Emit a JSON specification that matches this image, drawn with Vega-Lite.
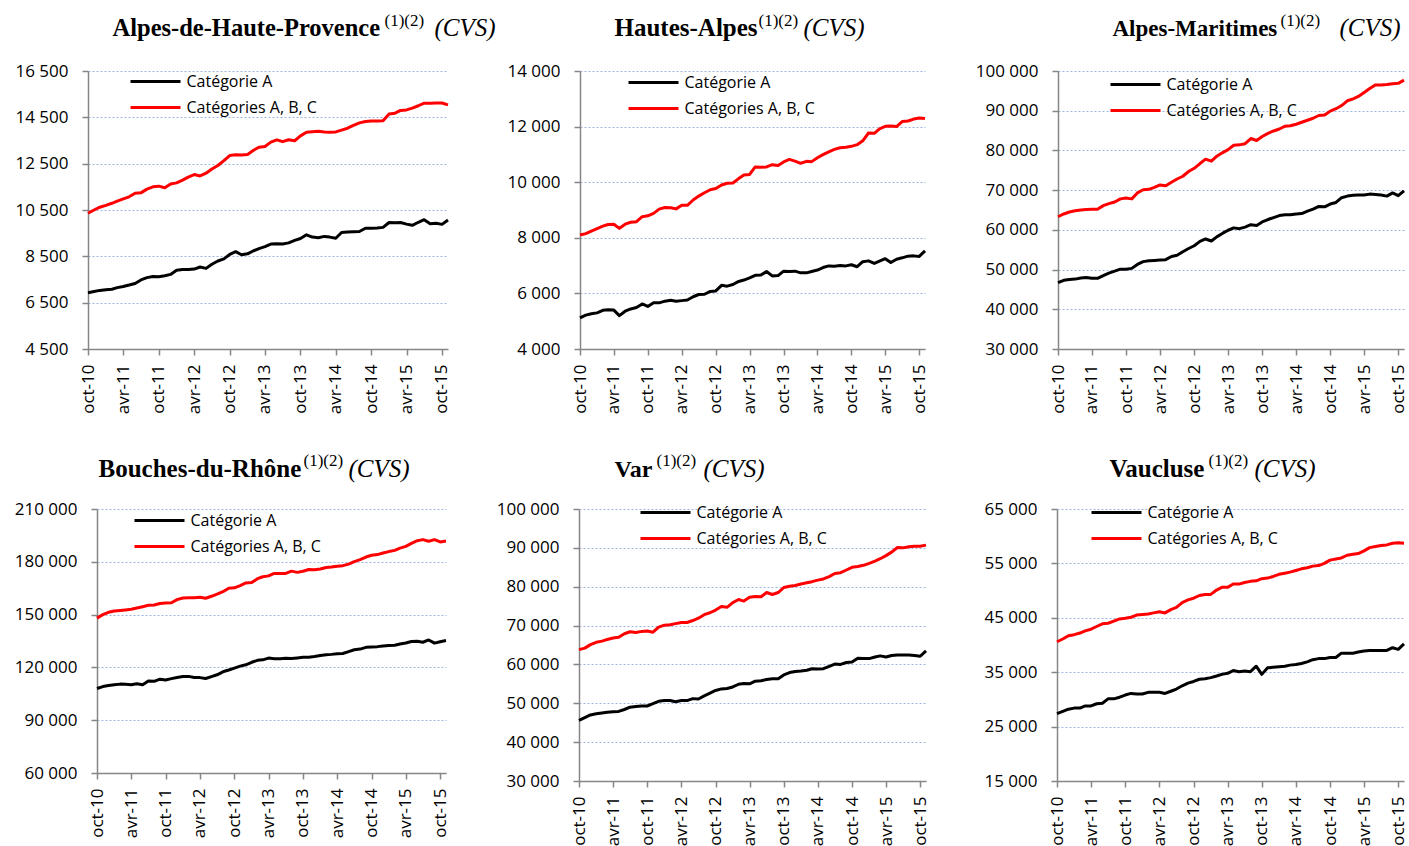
{
"$schema": "https://vega.github.io/schema/vega-lite/v6.json",
"padding": {"left": 13, "top": 11, "right": 0, "bottom": 0},
"background": "#ffffff",
"config": {
  "view": {"stroke": null},
  "locale": {
    "number": {"decimal": ",", "thousands": " ", "grouping": [3], "currency": ["", " €"]},
    "time": {"dateTime": "%A %e %B %Y à %X", "date": "%d/%m/%Y", "time": "%H:%M:%S", "periods": ["AM", "PM"], "days": ["dimanche","lundi","mardi","mercredi","jeudi","vendredi","samedi"], "shortDays": ["dim.","lun.","mar.","mer.","jeu.","ven.","sam."], "months": ["janvier","février","mars","avril","mai","juin","juillet","août","septembre","octobre","novembre","décembre"], "shortMonths": ["janv","févr","mars","avr","mai","juin","juil","août","sept","oct","nov","déc"]}
  },
  "axis": {"labelFont": "Open Sans", "labelFontSize": 17, "labelColor": "#000000", "tickColor": "#868686", "tickWidth": 1.5, "tickSize": 6, "domainColor": "#868686", "domainWidth": 1.5, "titleFont": "Liberation Serif", "titleColor": "#000000", "titleAngle": 0, "titleAlign": "left", "titleBaseline": "alphabetic", "titleLimit": 2000, "labelFlush": false, "labelOverlap": false, "gridColor": "#9DB4E0", "gridDash": [2, 2], "gridWidth": 1},
  "axisX": {"labelPadding": 9, "grid": false, "titleFontSize": 17, "titleFontWeight": "normal"},
  "axisY": {"labelPadding": 14, "titleFontSize": 25},
  "legend": {"symbolType": "M-2.5,0L2.5,0", "symbolSize": 400, "symbolStrokeWidth": 3, "labelFont": "Open Sans", "labelFontSize": 16, "labelColor": "#000000", "labelOffset": 19.5, "rowPadding": 6, "padding": 0, "labelLimit": 400},
  "line": {"strokeWidth": 3, "strokeJoin": "round"}
},
"datasets": {
"ahp": [
{"m":"2010-10","a":6930,"abc":10360},{"m":"2010-11","a":6980,"abc":10500},{"m":"2010-12","a":7030,"abc":10620},
{"m":"2011-01","a":7060,"abc":10700},{"m":"2011-02","a":7080,"abc":10790},{"m":"2011-03","a":7150,"abc":10880},{"m":"2011-04","a":7200,"abc":10980},{"m":"2011-05","a":7260,"abc":11070},{"m":"2011-06","a":7330,"abc":11220},{"m":"2011-07","a":7480,"abc":11240},{"m":"2011-08","a":7580,"abc":11400},{"m":"2011-09","a":7630,"abc":11500},{"m":"2011-10","a":7620,"abc":11530},{"m":"2011-11","a":7660,"abc":11460},{"m":"2011-12","a":7720,"abc":11620},
{"m":"2012-01","a":7900,"abc":11670},{"m":"2012-02","a":7930,"abc":11790},{"m":"2012-03","a":7930,"abc":11920},{"m":"2012-04","a":7950,"abc":12030},{"m":"2012-05","a":8040,"abc":11970},{"m":"2012-06","a":7980,"abc":12090},{"m":"2012-07","a":8160,"abc":12270},{"m":"2012-08","a":8300,"abc":12420},{"m":"2012-09","a":8390,"abc":12630},{"m":"2012-10","a":8580,"abc":12850},{"m":"2012-11","a":8700,"abc":12880},{"m":"2012-12","a":8570,"abc":12870},
{"m":"2013-01","a":8610,"abc":12900},{"m":"2013-02","a":8740,"abc":13080},{"m":"2013-03","a":8830,"abc":13210},{"m":"2013-04","a":8920,"abc":13240},{"m":"2013-05","a":9030,"abc":13430},{"m":"2013-06","a":9040,"abc":13530},{"m":"2013-07","a":9030,"abc":13450},{"m":"2013-08","a":9080,"abc":13530},{"m":"2013-09","a":9190,"abc":13490},{"m":"2013-10","a":9270,"abc":13700},{"m":"2013-11","a":9430,"abc":13860},{"m":"2013-12","a":9330,"abc":13880},
{"m":"2014-01","a":9300,"abc":13900},{"m":"2014-02","a":9360,"abc":13870},{"m":"2014-03","a":9330,"abc":13860},{"m":"2014-04","a":9280,"abc":13870},{"m":"2014-05","a":9530,"abc":13950},{"m":"2014-06","a":9550,"abc":14030},{"m":"2014-07","a":9560,"abc":14150},{"m":"2014-08","a":9570,"abc":14260},{"m":"2014-09","a":9710,"abc":14320},{"m":"2014-10","a":9710,"abc":14340},{"m":"2014-11","a":9720,"abc":14340},{"m":"2014-12","a":9750,"abc":14350},
{"m":"2015-01","a":9960,"abc":14640},{"m":"2015-02","a":9950,"abc":14680},{"m":"2015-03","a":9960,"abc":14800},{"m":"2015-04","a":9890,"abc":14820},{"m":"2015-05","a":9840,"abc":14900},{"m":"2015-06","a":9970,"abc":15000},{"m":"2015-07","a":10080,"abc":15110},{"m":"2015-08","a":9910,"abc":15110},{"m":"2015-09","a":9930,"abc":15120},{"m":"2015-10","a":9880,"abc":15120},{"m":"2015-11","a":10070,"abc":15040}
],
"ha": [
{"m":"2010-10","a":5120,"abc":8100},{"m":"2010-11","a":5220,"abc":8150},{"m":"2010-12","a":5270,"abc":8240},
{"m":"2011-01","a":5300,"abc":8330},{"m":"2011-02","a":5390,"abc":8420},{"m":"2011-03","a":5410,"abc":8480},{"m":"2011-04","a":5400,"abc":8490},{"m":"2011-05","a":5200,"abc":8340},{"m":"2011-06","a":5360,"abc":8490},{"m":"2011-07","a":5440,"abc":8560},{"m":"2011-08","a":5490,"abc":8580},{"m":"2011-09","a":5620,"abc":8760},{"m":"2011-10","a":5530,"abc":8790},{"m":"2011-11","a":5660,"abc":8880},{"m":"2011-12","a":5660,"abc":9030},
{"m":"2012-01","a":5720,"abc":9090},{"m":"2012-02","a":5750,"abc":9080},{"m":"2012-03","a":5720,"abc":9040},{"m":"2012-04","a":5740,"abc":9170},{"m":"2012-05","a":5760,"abc":9170},{"m":"2012-06","a":5880,"abc":9360},{"m":"2012-07","a":5960,"abc":9500},{"m":"2012-08","a":5970,"abc":9620},{"m":"2012-09","a":6070,"abc":9730},{"m":"2012-10","a":6090,"abc":9770},{"m":"2012-11","a":6290,"abc":9900},{"m":"2012-12","a":6260,"abc":9960},
{"m":"2013-01","a":6320,"abc":9970},{"m":"2013-02","a":6430,"abc":10130},{"m":"2013-03","a":6480,"abc":10260},{"m":"2013-04","a":6560,"abc":10280},{"m":"2013-05","a":6650,"abc":10550},{"m":"2013-06","a":6660,"abc":10540},{"m":"2013-07","a":6790,"abc":10550},{"m":"2013-08","a":6630,"abc":10630},{"m":"2013-09","a":6640,"abc":10600},{"m":"2013-10","a":6800,"abc":10730},{"m":"2013-11","a":6790,"abc":10820},{"m":"2013-12","a":6800,"abc":10760},
{"m":"2014-01","a":6740,"abc":10680},{"m":"2014-02","a":6740,"abc":10750},{"m":"2014-03","a":6790,"abc":10740},{"m":"2014-04","a":6840,"abc":10880},{"m":"2014-05","a":6930,"abc":10990},{"m":"2014-06","a":6990,"abc":11090},{"m":"2014-07","a":6980,"abc":11180},{"m":"2014-08","a":7000,"abc":11240},{"m":"2014-09","a":6990,"abc":11260},{"m":"2014-10","a":7030,"abc":11290},{"m":"2014-11","a":6960,"abc":11350},{"m":"2014-12","a":7140,"abc":11490},
{"m":"2015-01","a":7170,"abc":11770},{"m":"2015-02","a":7080,"abc":11760},{"m":"2015-03","a":7160,"abc":11920},{"m":"2015-04","a":7250,"abc":12010},{"m":"2015-05","a":7110,"abc":12020},{"m":"2015-06","a":7230,"abc":12000},{"m":"2015-07","a":7280,"abc":12180},{"m":"2015-08","a":7340,"abc":12200},{"m":"2015-09","a":7350,"abc":12270},{"m":"2015-10","a":7330,"abc":12310},{"m":"2015-11","a":7530,"abc":12290}
],
"am": [
{"m":"2010-10","a":46700,"abc":63300},{"m":"2010-11","a":47300,"abc":64000},{"m":"2010-12","a":47500,"abc":64500},
{"m":"2011-01","a":47600,"abc":64800},{"m":"2011-02","a":47900,"abc":65000},{"m":"2011-03","a":48000,"abc":65100},{"m":"2011-04","a":47800,"abc":65200},{"m":"2011-05","a":47800,"abc":65200},{"m":"2011-06","a":48500,"abc":66100},{"m":"2011-07","a":49100,"abc":66600},{"m":"2011-08","a":49600,"abc":67000},{"m":"2011-09","a":50100,"abc":67800},{"m":"2011-10","a":50100,"abc":68000},{"m":"2011-11","a":50300,"abc":67800},{"m":"2011-12","a":51300,"abc":69300},
{"m":"2012-01","a":52000,"abc":70100},{"m":"2012-02","a":52200,"abc":70200},{"m":"2012-03","a":52300,"abc":70700},{"m":"2012-04","a":52400,"abc":71300},{"m":"2012-05","a":52500,"abc":71100},{"m":"2012-06","a":53300,"abc":72000},{"m":"2012-07","a":53600,"abc":72800},{"m":"2012-08","a":54500,"abc":73500},{"m":"2012-09","a":55300,"abc":74700},{"m":"2012-10","a":56000,"abc":75500},{"m":"2012-11","a":57100,"abc":76700},{"m":"2012-12","a":57700,"abc":77800},
{"m":"2013-01","a":57200,"abc":77300},{"m":"2013-02","a":58300,"abc":78600},{"m":"2013-03","a":59100,"abc":79400},{"m":"2013-04","a":59900,"abc":80200},{"m":"2013-05","a":60500,"abc":81300},{"m":"2013-06","a":60300,"abc":81400},{"m":"2013-07","a":60700,"abc":81700},{"m":"2013-08","a":61300,"abc":83000},{"m":"2013-09","a":61100,"abc":82500},{"m":"2013-10","a":62000,"abc":83500},{"m":"2013-11","a":62600,"abc":84300},{"m":"2013-12","a":63100,"abc":84900},
{"m":"2014-01","a":63600,"abc":85400},{"m":"2014-02","a":63800,"abc":86100},{"m":"2014-03","a":63800,"abc":86200},{"m":"2014-04","a":64000,"abc":86600},{"m":"2014-05","a":64100,"abc":87100},{"m":"2014-06","a":64700,"abc":87600},{"m":"2014-07","a":65200,"abc":88100},{"m":"2014-08","a":65900,"abc":88800},{"m":"2014-09","a":65800,"abc":88900},{"m":"2014-10","a":66500,"abc":89900},{"m":"2014-11","a":66900,"abc":90500},{"m":"2014-12","a":68100,"abc":91300},
{"m":"2015-01","a":68500,"abc":92500},{"m":"2015-02","a":68700,"abc":93000},{"m":"2015-03","a":68800,"abc":93600},{"m":"2015-04","a":68800,"abc":94600},{"m":"2015-05","a":69000,"abc":95600},{"m":"2015-06","a":68900,"abc":96500},{"m":"2015-07","a":68800,"abc":96500},{"m":"2015-08","a":68500,"abc":96600},{"m":"2015-09","a":69300,"abc":96800},{"m":"2015-10","a":68600,"abc":96900},{"m":"2015-11","a":69800,"abc":97700}
],
"bdr": [
{"m":"2010-10","a":108000,"abc":148000},{"m":"2010-11","a":109100,"abc":150000},{"m":"2010-12","a":109700,"abc":151300},
{"m":"2011-01","a":110200,"abc":152000},{"m":"2011-02","a":110500,"abc":152300},{"m":"2011-03","a":110400,"abc":152600},{"m":"2011-04","a":110100,"abc":153000},{"m":"2011-05","a":110700,"abc":153700},{"m":"2011-06","a":110200,"abc":154500},{"m":"2011-07","a":112300,"abc":155300},{"m":"2011-08","a":112100,"abc":155500},{"m":"2011-09","a":113300,"abc":156300},{"m":"2011-10","a":112800,"abc":156600},{"m":"2011-11","a":113600,"abc":156700},{"m":"2011-12","a":114300,"abc":158500},
{"m":"2012-01","a":114800,"abc":159400},{"m":"2012-02","a":114900,"abc":159600},{"m":"2012-03","a":114300,"abc":159600},{"m":"2012-04","a":114200,"abc":159900},{"m":"2012-05","a":113700,"abc":159300},{"m":"2012-06","a":114800,"abc":160400},{"m":"2012-07","a":115800,"abc":161600},{"m":"2012-08","a":117500,"abc":163000},{"m":"2012-09","a":118500,"abc":165000},{"m":"2012-10","a":119600,"abc":165200},{"m":"2012-11","a":120700,"abc":166500},{"m":"2012-12","a":121500,"abc":168000},
{"m":"2013-01","a":122900,"abc":168200},{"m":"2013-02","a":124000,"abc":170400},{"m":"2013-03","a":124300,"abc":171500},{"m":"2013-04","a":125300,"abc":172000},{"m":"2013-05","a":124900,"abc":173400},{"m":"2013-06","a":124900,"abc":173300},{"m":"2013-07","a":125200,"abc":173400},{"m":"2013-08","a":125000,"abc":174700},{"m":"2013-09","a":125400,"abc":174000},{"m":"2013-10","a":125800,"abc":174600},{"m":"2013-11","a":125800,"abc":175600},{"m":"2013-12","a":126200,"abc":175500},
{"m":"2014-01","a":126700,"abc":175900},{"m":"2014-02","a":127200,"abc":176800},{"m":"2014-03","a":127400,"abc":177000},{"m":"2014-04","a":127700,"abc":177500},{"m":"2014-05","a":127900,"abc":177800},{"m":"2014-06","a":129000,"abc":178700},{"m":"2014-07","a":130000,"abc":180100},{"m":"2014-08","a":130400,"abc":181200},{"m":"2014-09","a":131400,"abc":182700},{"m":"2014-10","a":131600,"abc":183700},{"m":"2014-11","a":131800,"abc":184100},{"m":"2014-12","a":132200,"abc":185000},
{"m":"2015-01","a":132400,"abc":185800},{"m":"2015-02","a":132600,"abc":186500},{"m":"2015-03","a":133300,"abc":187800},{"m":"2015-04","a":133900,"abc":188800},{"m":"2015-05","a":134700,"abc":190500},{"m":"2015-06","a":134800,"abc":192000},{"m":"2015-07","a":134300,"abc":192600},{"m":"2015-08","a":135600,"abc":191700},{"m":"2015-09","a":133800,"abc":192600},{"m":"2015-10","a":134600,"abc":191300},{"m":"2015-11","a":135300,"abc":191800}
],
"var": [
{"m":"2010-10","a":45600,"abc":63800},{"m":"2010-11","a":46300,"abc":64200},{"m":"2010-12","a":47000,"abc":65100},
{"m":"2011-01","a":47300,"abc":65700},{"m":"2011-02","a":47500,"abc":66000},{"m":"2011-03","a":47700,"abc":66400},{"m":"2011-04","a":47800,"abc":66800},{"m":"2011-05","a":47900,"abc":67000},{"m":"2011-06","a":48400,"abc":67900},{"m":"2011-07","a":49000,"abc":68400},{"m":"2011-08","a":49200,"abc":68200},{"m":"2011-09","a":49300,"abc":68500},{"m":"2011-10","a":49300,"abc":68600},{"m":"2011-11","a":49900,"abc":68300},{"m":"2011-12","a":50500,"abc":69600},
{"m":"2012-01","a":50700,"abc":70100},{"m":"2012-02","a":50700,"abc":70200},{"m":"2012-03","a":50400,"abc":70500},{"m":"2012-04","a":50700,"abc":70800},{"m":"2012-05","a":50700,"abc":70800},{"m":"2012-06","a":51200,"abc":71300},{"m":"2012-07","a":51100,"abc":71900},{"m":"2012-08","a":51900,"abc":72800},{"m":"2012-09","a":52600,"abc":73300},{"m":"2012-10","a":53300,"abc":74000},{"m":"2012-11","a":53700,"abc":74900},{"m":"2012-12","a":53800,"abc":74700},
{"m":"2013-01","a":54200,"abc":75900},{"m":"2013-02","a":54900,"abc":76700},{"m":"2013-03","a":55100,"abc":76300},{"m":"2013-04","a":55000,"abc":77300},{"m":"2013-05","a":55700,"abc":77500},{"m":"2013-06","a":55800,"abc":77400},{"m":"2013-07","a":56100,"abc":78500},{"m":"2013-08","a":56300,"abc":78000},{"m":"2013-09","a":56300,"abc":78500},{"m":"2013-10","a":57300,"abc":79800},{"m":"2013-11","a":57900,"abc":80100},{"m":"2013-12","a":58200,"abc":80300},
{"m":"2014-01","a":58300,"abc":80700},{"m":"2014-02","a":58500,"abc":81000},{"m":"2014-03","a":58900,"abc":81300},{"m":"2014-04","a":58800,"abc":81700},{"m":"2014-05","a":58900,"abc":82000},{"m":"2014-06","a":59500,"abc":82600},{"m":"2014-07","a":60100,"abc":83400},{"m":"2014-08","a":60000,"abc":83600},{"m":"2014-09","a":60500,"abc":84300},{"m":"2014-10","a":60600,"abc":85000},{"m":"2014-11","a":61600,"abc":85200},{"m":"2014-12","a":61500,"abc":85500},
{"m":"2015-01","a":61500,"abc":86000},{"m":"2015-02","a":61900,"abc":86600},{"m":"2015-03","a":62200,"abc":87200},{"m":"2015-04","a":61900,"abc":88000},{"m":"2015-05","a":62300,"abc":88900},{"m":"2015-06","a":62400,"abc":90100},{"m":"2015-07","a":62400,"abc":90000},{"m":"2015-08","a":62400,"abc":90300},{"m":"2015-09","a":62300,"abc":90400},{"m":"2015-10","a":62100,"abc":90400},{"m":"2015-11","a":63500,"abc":90700}
],
"vau": [
{"m":"2010-10","a":27400,"abc":40600},{"m":"2010-11","a":27800,"abc":41100},{"m":"2010-12","a":28200,"abc":41700},
{"m":"2011-01","a":28400,"abc":41900},{"m":"2011-02","a":28400,"abc":42200},{"m":"2011-03","a":28800,"abc":42600},{"m":"2011-04","a":28800,"abc":42900},{"m":"2011-05","a":29200,"abc":43400},{"m":"2011-06","a":29300,"abc":43900},{"m":"2011-07","a":30100,"abc":44000},{"m":"2011-08","a":30100,"abc":44400},{"m":"2011-09","a":30400,"abc":44800},{"m":"2011-10","a":30800,"abc":44900},{"m":"2011-11","a":31100,"abc":45100},{"m":"2011-12","a":31000,"abc":45500},
{"m":"2012-01","a":31000,"abc":45600},{"m":"2012-02","a":31300,"abc":45700},{"m":"2012-03","a":31300,"abc":45900},{"m":"2012-04","a":31300,"abc":46100},{"m":"2012-05","a":31100,"abc":45900},{"m":"2012-06","a":31500,"abc":46500},{"m":"2012-07","a":31900,"abc":46900},{"m":"2012-08","a":32500,"abc":47800},{"m":"2012-09","a":33000,"abc":48300},{"m":"2012-10","a":33300,"abc":48600},{"m":"2012-11","a":33700,"abc":49100},{"m":"2012-12","a":33800,"abc":49300},
{"m":"2013-01","a":34000,"abc":49300},{"m":"2013-02","a":34300,"abc":50100},{"m":"2013-03","a":34600,"abc":50600},{"m":"2013-04","a":34800,"abc":50600},{"m":"2013-05","a":35300,"abc":51200},{"m":"2013-06","a":35100,"abc":51200},{"m":"2013-07","a":35200,"abc":51500},{"m":"2013-08","a":35100,"abc":51700},{"m":"2013-09","a":36100,"abc":51800},{"m":"2013-10","a":34600,"abc":52200},{"m":"2013-11","a":35800,"abc":52300},{"m":"2013-12","a":35900,"abc":52600},
{"m":"2014-01","a":36000,"abc":53000},{"m":"2014-02","a":36100,"abc":53200},{"m":"2014-03","a":36300,"abc":53400},{"m":"2014-04","a":36400,"abc":53700},{"m":"2014-05","a":36600,"abc":54000},{"m":"2014-06","a":36900,"abc":54200},{"m":"2014-07","a":37300,"abc":54500},{"m":"2014-08","a":37500,"abc":54600},{"m":"2014-09","a":37500,"abc":55000},{"m":"2014-10","a":37700,"abc":55600},{"m":"2014-11","a":37700,"abc":55800},{"m":"2014-12","a":38500,"abc":56000},
{"m":"2015-01","a":38500,"abc":56500},{"m":"2015-02","a":38500,"abc":56700},{"m":"2015-03","a":38700,"abc":56800},{"m":"2015-04","a":38900,"abc":57300},{"m":"2015-05","a":39000,"abc":57900},{"m":"2015-06","a":39000,"abc":58100},{"m":"2015-07","a":39000,"abc":58300},{"m":"2015-08","a":39000,"abc":58400},{"m":"2015-09","a":39500,"abc":58700},{"m":"2015-10","a":39200,"abc":58800},{"m":"2015-11","a":40200,"abc":58700}
]
},
"spacing": 37,
"resolve": {"scale": {"color": "independent"}, "legend": {"color": "independent"}},
"vconcat": [
{
"hconcat": [
{"width": 1, "height": 1, "data": {"values": []}, "mark": "point"},
{
"width": 360, "height": 278,
"data": {"name": "ahp"},
"encoding": {"x": {"field": "m", "type": "temporal", "scale": {"type": "utc", "domain": [{"year":2010,"month":10,"date":1,"utc":true},{"year":2015,"month":11,"date":1,"utc":true}]},
  "axis": {"values": [{"year":2010,"month":10,"date":1,"utc":true},{"year":2011,"month":4,"date":1,"utc":true},{"year":2011,"month":10,"date":1,"utc":true},{"year":2012,"month":4,"date":1,"utc":true},{"year":2012,"month":10,"date":1,"utc":true},{"year":2013,"month":4,"date":1,"utc":true},{"year":2013,"month":10,"date":1,"utc":true},{"year":2014,"month":4,"date":1,"utc":true},{"year":2014,"month":10,"date":1,"utc":true},{"year":2015,"month":4,"date":1,"utc":true},{"year":2015,"month":10,"date":1,"utc":true}], "format": "%b-%y", "labelAngle": -90, "title": "(1)(2)", "titleX": 296, "titleY": -324}}},
"layer": [
 {"mark": "line", "encoding": {
   "y": {"field": "a", "type": "quantitative", "scale": {"domain": [4500, 16500], "nice": false, "zero": false}, "axis": {"values": [4500,6500,8500,10500,12500,14500,16500], "format": ",d", "grid": true, "minExtent": 73, "maxExtent": 73, "title": "Alpes-de-Haute-Provence", "titleX": 24, "titleY": -36, "titleFontWeight": "bold", "titleFontSize": 24.5}},
   "color": {"datum": "Catégorie A", "type": "nominal", "scale": {"domain": ["Catégorie A", "Catégories A, B, C"], "range": ["#000000", "#FF0000"]}, "legend": {"title": null, "orient": "none", "legendX": 56, "legendY": -1}}}},
 {"mark": "line", "encoding": {
   "y": {"field": "abc", "type": "quantitative", "scale": {"domain": [4500, 16500], "nice": false, "zero": false}, "axis": {"orient": "right", "labels": false, "ticks": false, "domain": false, "grid": false, "minExtent": 50, "maxExtent": 50, "title": "(CVS)", "titleX": -14, "titleY": -36, "titleFontStyle": "italic", "titleFontWeight": "normal"}},
   "color": {"datum": "Catégories A, B, C", "type": "nominal", "scale": {"domain": ["Catégorie A", "Catégories A, B, C"], "range": ["#000000", "#FF0000"]}, "legend": {"title": null, "orient": "none", "legendX": 56, "legendY": -1}}}}
],
"resolve": {"axis": {"y": "independent"}}
},
{
"width": 345, "height": 278,
"data": {"name": "ha"},
"encoding": {"x": {"field": "m", "type": "temporal", "scale": {"type": "utc", "domain": [{"year":2010,"month":10,"date":1,"utc":true},{"year":2015,"month":11,"date":1,"utc":true}]},
  "axis": {"values": [{"year":2010,"month":10,"date":1,"utc":true},{"year":2011,"month":4,"date":1,"utc":true},{"year":2011,"month":10,"date":1,"utc":true},{"year":2012,"month":4,"date":1,"utc":true},{"year":2012,"month":10,"date":1,"utc":true},{"year":2013,"month":4,"date":1,"utc":true},{"year":2013,"month":10,"date":1,"utc":true},{"year":2014,"month":4,"date":1,"utc":true},{"year":2014,"month":10,"date":1,"utc":true},{"year":2015,"month":4,"date":1,"utc":true},{"year":2015,"month":10,"date":1,"utc":true}], "format": "%b-%y", "labelAngle": -90, "title": "(1)(2)", "titleX": 178, "titleY": -324}}},
"layer": [
 {"mark": "line", "encoding": {
   "y": {"field": "a", "type": "quantitative", "scale": {"domain": [4000, 14000], "nice": false, "zero": false}, "axis": {"values": [4000,6000,8000,10000,12000,14000], "format": ",d", "grid": true, "minExtent": 82, "maxExtent": 82, "title": "Hautes-Alpes", "titleX": 34, "titleY": -36, "titleFontWeight": "bold", "titleFontSize": 25}},
   "color": {"datum": "Catégorie A", "type": "nominal", "scale": {"domain": ["Catégorie A", "Catégories A, B, C"], "range": ["#000000", "#FF0000"]}, "legend": {"title": null, "orient": "none", "legendX": 62, "legendY": 0}}}},
 {"mark": "line", "encoding": {
   "y": {"field": "abc", "type": "quantitative", "scale": {"domain": [4000, 14000], "nice": false, "zero": false}, "axis": {"orient": "right", "labels": false, "ticks": false, "domain": false, "grid": false, "minExtent": 50, "maxExtent": 50, "title": "(CVS)", "titleX": -122, "titleY": -36, "titleFontStyle": "italic", "titleFontWeight": "normal"}},
   "color": {"datum": "Catégories A, B, C", "type": "nominal", "scale": {"domain": ["Catégorie A", "Catégories A, B, C"], "range": ["#000000", "#FF0000"]}, "legend": {"title": null, "orient": "none", "legendX": 62, "legendY": 0}}}}
],
"resolve": {"axis": {"y": "independent"}}
},
{
"width": 346, "height": 278,
"data": {"name": "am"},
"encoding": {"x": {"field": "m", "type": "temporal", "scale": {"type": "utc", "domain": [{"year":2010,"month":10,"date":1,"utc":true},{"year":2015,"month":11,"date":1,"utc":true}]},
  "axis": {"values": [{"year":2010,"month":10,"date":1,"utc":true},{"year":2011,"month":4,"date":1,"utc":true},{"year":2011,"month":10,"date":1,"utc":true},{"year":2012,"month":4,"date":1,"utc":true},{"year":2012,"month":10,"date":1,"utc":true},{"year":2013,"month":4,"date":1,"utc":true},{"year":2013,"month":10,"date":1,"utc":true},{"year":2014,"month":4,"date":1,"utc":true},{"year":2014,"month":10,"date":1,"utc":true},{"year":2015,"month":4,"date":1,"utc":true},{"year":2015,"month":10,"date":1,"utc":true}], "format": "%b-%y", "labelAngle": -90, "title": "(1)(2)", "titleX": 222, "titleY": -324}}},
"layer": [
 {"mark": "line", "encoding": {
   "y": {"field": "a", "type": "quantitative", "scale": {"domain": [30000, 100000], "nice": false, "zero": false}, "axis": {"values": [30000,40000,50000,60000,70000,80000,90000,100000], "format": ",d", "grid": true, "minExtent": 80, "maxExtent": 80, "title": "Alpes-Maritimes", "titleX": 54, "titleY": -36, "titleFontWeight": "bold", "titleFontSize": 23}},
   "color": {"datum": "Catégorie A", "type": "nominal", "scale": {"domain": ["Catégorie A", "Catégories A, B, C"], "range": ["#000000", "#FF0000"]}, "legend": {"title": null, "orient": "none", "legendX": 66, "legendY": 2}}}},
 {"mark": "line", "encoding": {
   "y": {"field": "abc", "type": "quantitative", "scale": {"domain": [30000, 100000], "nice": false, "zero": false}, "axis": {"orient": "right", "labels": false, "ticks": false, "domain": false, "grid": false, "minExtent": 5, "maxExtent": 5, "title": "(CVS)", "titleX": -65, "titleY": -36, "titleFontStyle": "italic", "titleFontWeight": "normal"}},
   "color": {"datum": "Catégories A, B, C", "type": "nominal", "scale": {"domain": ["Catégorie A", "Catégories A, B, C"], "range": ["#000000", "#FF0000"]}, "legend": {"title": null, "orient": "none", "legendX": 66, "legendY": 2}}}}
],
"resolve": {"axis": {"y": "independent"}}
}
],
"spacing": 0,
"bounds": "full",
"resolve": {"scale": {"color": "independent"}, "legend": {"color": "independent"}}
},
{
"hconcat": [
{"width": 1, "height": 1, "data": {"values": []}, "mark": "point"},
{
"width": 349, "height": 264,
"data": {"name": "bdr"},
"encoding": {"x": {"field": "m", "type": "temporal", "scale": {"type": "utc", "domain": [{"year":2010,"month":10,"date":1,"utc":true},{"year":2015,"month":11,"date":1,"utc":true}]},
  "axis": {"values": [{"year":2010,"month":10,"date":1,"utc":true},{"year":2011,"month":4,"date":1,"utc":true},{"year":2011,"month":10,"date":1,"utc":true},{"year":2012,"month":4,"date":1,"utc":true},{"year":2012,"month":10,"date":1,"utc":true},{"year":2013,"month":4,"date":1,"utc":true},{"year":2013,"month":10,"date":1,"utc":true},{"year":2014,"month":4,"date":1,"utc":true},{"year":2014,"month":10,"date":1,"utc":true},{"year":2015,"month":4,"date":1,"utc":true},{"year":2015,"month":10,"date":1,"utc":true}], "format": "%b-%y", "labelAngle": -90, "title": "(1)(2)", "titleX": 206, "titleY": -308}}},
"layer": [
 {"mark": "line", "encoding": {
   "y": {"field": "a", "type": "quantitative", "scale": {"domain": [60000, 210000], "nice": false, "zero": false}, "axis": {"values": [60000,90000,120000,150000,180000,210000], "format": ",d", "grid": true, "minExtent": 83, "maxExtent": 83, "title": "Bouches-du-Rhône", "titleX": 1, "titleY": -33, "titleFontWeight": "bold", "titleFontSize": 25}},
   "color": {"datum": "Catégorie A", "type": "nominal", "scale": {"domain": ["Catégorie A", "Catégories A, B, C"], "range": ["#000000", "#FF0000"]}, "legend": {"title": null, "orient": "none", "legendX": 51, "legendY": 0}}}},
 {"mark": "line", "encoding": {
   "y": {"field": "abc", "type": "quantitative", "scale": {"domain": [60000, 210000], "nice": false, "zero": false}, "axis": {"orient": "right", "labels": false, "ticks": false, "domain": false, "grid": false, "minExtent": 50, "maxExtent": 50, "title": "(CVS)", "titleX": -98, "titleY": -33, "titleFontStyle": "italic", "titleFontWeight": "normal"}},
   "color": {"datum": "Catégories A, B, C", "type": "nominal", "scale": {"domain": ["Catégorie A", "Catégories A, B, C"], "range": ["#000000", "#FF0000"]}, "legend": {"title": null, "orient": "none", "legendX": 51, "legendY": 0}}}}
],
"resolve": {"axis": {"y": "independent"}}
},
{
"width": 347, "height": 272,
"data": {"name": "var"},
"encoding": {"x": {"field": "m", "type": "temporal", "scale": {"type": "utc", "domain": [{"year":2010,"month":10,"date":1,"utc":true},{"year":2015,"month":11,"date":1,"utc":true}]},
  "axis": {"values": [{"year":2010,"month":10,"date":1,"utc":true},{"year":2011,"month":4,"date":1,"utc":true},{"year":2011,"month":10,"date":1,"utc":true},{"year":2012,"month":4,"date":1,"utc":true},{"year":2012,"month":10,"date":1,"utc":true},{"year":2013,"month":4,"date":1,"utc":true},{"year":2013,"month":10,"date":1,"utc":true},{"year":2014,"month":4,"date":1,"utc":true},{"year":2014,"month":10,"date":1,"utc":true},{"year":2015,"month":4,"date":1,"utc":true},{"year":2015,"month":10,"date":1,"utc":true}], "format": "%b-%y", "labelAngle": -90, "title": "(1)(2)", "titleX": 77, "titleY": -316}}},
"layer": [
 {"mark": "line", "encoding": {
   "y": {"field": "a", "type": "quantitative", "scale": {"domain": [30000, 100000], "nice": false, "zero": false}, "axis": {"values": [30000,40000,50000,60000,70000,80000,90000,100000], "format": ",d", "grid": true, "minExtent": 82, "maxExtent": 82, "title": "Var", "titleX": 35, "titleY": -33, "titleFontWeight": "bold", "titleFontSize": 24}},
   "color": {"datum": "Catégorie A", "type": "nominal", "scale": {"domain": ["Catégorie A", "Catégories A, B, C"], "range": ["#000000", "#FF0000"]}, "legend": {"title": null, "orient": "none", "legendX": 75, "legendY": -8}}}},
 {"mark": "line", "encoding": {
   "y": {"field": "abc", "type": "quantitative", "scale": {"domain": [30000, 100000], "nice": false, "zero": false}, "axis": {"orient": "right", "labels": false, "ticks": false, "domain": false, "grid": false, "minExtent": 50, "maxExtent": 50, "title": "(CVS)", "titleX": -223, "titleY": -33, "titleFontStyle": "italic", "titleFontWeight": "normal"}},
   "color": {"datum": "Catégories A, B, C", "type": "nominal", "scale": {"domain": ["Catégorie A", "Catégories A, B, C"], "range": ["#000000", "#FF0000"]}, "legend": {"title": null, "orient": "none", "legendX": 75, "legendY": -8}}}}
],
"resolve": {"axis": {"y": "independent"}}
},
{
"width": 347, "height": 272,
"data": {"name": "vau"},
"encoding": {"x": {"field": "m", "type": "temporal", "scale": {"type": "utc", "domain": [{"year":2010,"month":10,"date":1,"utc":true},{"year":2015,"month":11,"date":1,"utc":true}]},
  "axis": {"values": [{"year":2010,"month":10,"date":1,"utc":true},{"year":2011,"month":4,"date":1,"utc":true},{"year":2011,"month":10,"date":1,"utc":true},{"year":2012,"month":4,"date":1,"utc":true},{"year":2012,"month":10,"date":1,"utc":true},{"year":2013,"month":4,"date":1,"utc":true},{"year":2013,"month":10,"date":1,"utc":true},{"year":2014,"month":4,"date":1,"utc":true},{"year":2014,"month":10,"date":1,"utc":true},{"year":2015,"month":4,"date":1,"utc":true},{"year":2015,"month":10,"date":1,"utc":true}], "format": "%b-%y", "labelAngle": -90, "title": "(1)(2)", "titleX": 151, "titleY": -316}}},
"layer": [
 {"mark": "line", "encoding": {
   "y": {"field": "a", "type": "quantitative", "scale": {"domain": [15000, 65000], "nice": false, "zero": false}, "axis": {"values": [15000,25000,35000,45000,55000,65000], "format": ",d", "grid": true, "minExtent": 81, "maxExtent": 81, "title": "Vaucluse", "titleX": 52, "titleY": -33, "titleFontWeight": "bold", "titleFontSize": 25}},
   "color": {"datum": "Catégorie A", "type": "nominal", "scale": {"domain": ["Catégorie A", "Catégories A, B, C"], "range": ["#000000", "#FF0000"]}, "legend": {"title": null, "orient": "none", "legendX": 48, "legendY": -8}}}},
 {"mark": "line", "encoding": {
   "y": {"field": "abc", "type": "quantitative", "scale": {"domain": [15000, 65000], "nice": false, "zero": false}, "axis": {"orient": "right", "labels": false, "ticks": false, "domain": false, "grid": false, "minExtent": 5, "maxExtent": 5, "title": "(CVS)", "titleX": -150, "titleY": -33, "titleFontStyle": "italic", "titleFontWeight": "normal"}},
   "color": {"datum": "Catégories A, B, C", "type": "nominal", "scale": {"domain": ["Catégorie A", "Catégories A, B, C"], "range": ["#000000", "#FF0000"]}, "legend": {"title": null, "orient": "none", "legendX": 48, "legendY": -8}}}}
],
"resolve": {"axis": {"y": "independent"}}
}
],
"spacing": 0,
"bounds": "full",
"resolve": {"scale": {"color": "independent"}, "legend": {"color": "independent"}}
}
]
}
